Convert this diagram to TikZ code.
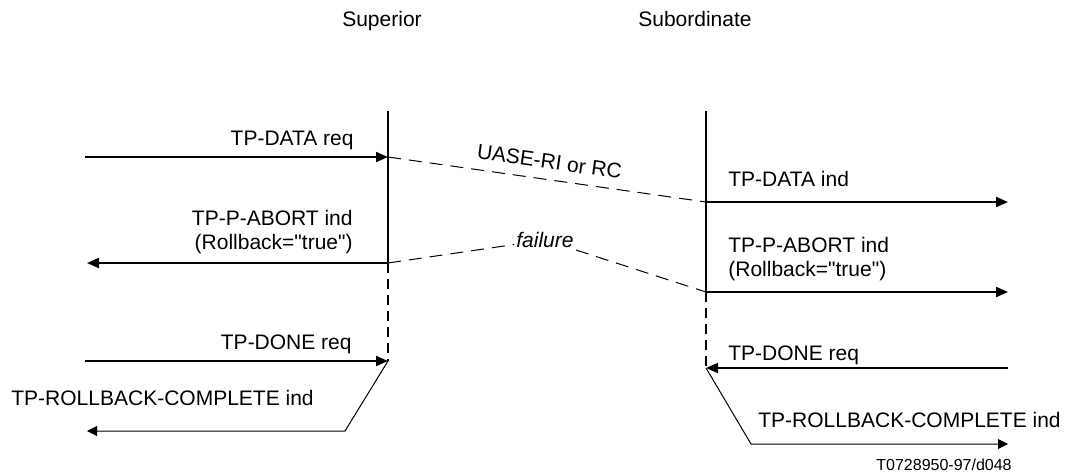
\documentclass[tikz,border=0pt]{standalone}
\usepackage{fontspec}
\setmainfont{Liberation Sans}
\usetikzlibrary{arrows.meta,positioning,calc}
\tikzset{
  lbl/.style={inner sep=0pt, font=\fontsize{10.5}{12}\selectfont},
  lifeline/.style={line width=1pt},
  lifedash/.style={line width=1pt, dash pattern=on 5pt off 3pt},
  msg/.style={line width=1pt, -{Triangle[length=6pt,width=5pt]}},
  rbmsg/.style={line width=0.5pt, -{Triangle[length=5pt,width=5pt]}},
  pdu/.style={line width=0.5pt, dash pattern=on 6.5pt off 4pt}
}

\begin{document}
\begin{tikzpicture}[x=0.5pt,y=-0.5pt]
\useasboundingbox (0,0) rectangle (1066,473);
% entities
\node[lbl, anchor=base] (sup) at (382,26) {Superior};
\node[lbl, anchor=base] (sub) at (695,26) {Subordinate};
% points on the two time lines
\coordinate (supT) at (388,111);
\coordinate (supA) at (388,157);
\coordinate (supB) at (388,263);
\coordinate (supC) at (388,361);
\coordinate (subT) at (706,111);
\coordinate (subA) at (706,202);
\coordinate (subB) at (706,292);
\coordinate (subC) at (706,368);
% free ends of the primitives
\coordinate (reqL) at (85,157);
\coordinate (abtL) at (87,263);
\coordinate (indR) at (1008,202);
\coordinate (abtR) at (1008,292);
\coordinate (doneL) at (85,361);
\coordinate (doneR) at (1008,368);
\coordinate (rbLk) at (345,431);
\coordinate (rbL) at (87,431);
\coordinate (rbRk) at (751,444);
\coordinate (rbR) at (1008,444);

\draw[lifeline] (supT) -- (supB);
\draw[lifedash] (supB) -- (supC);
\draw[lifeline] (subT) -- (subB);
\draw[lifedash] (subB) -- (subC);

\draw[msg] (reqL) -- (supA);
\draw[msg] (supB) -- (abtL);
\draw[msg] (subA) -- (indR);
\draw[msg] (subB) -- (abtR);
\draw[msg] (doneL) -- (supC);
\draw[msg] (doneR) -- (subC);
\draw[rbmsg] (supC) -- (rbLk) -- (rbL);
\draw[rbmsg] (subC) -- (rbRk) -- (rbR);

% PDUs
\draw[pdu] (supA) -- (subA) node[lbl, midway, sloped, above=5pt] (uase) {UASE-RI or RC};
\node[lbl, inner sep=1pt, font=\fontsize{10.5}{12}\selectfont\itshape] (fail) at (545,240) {failure};
\draw[pdu] (supB) -- (fail) -- (subB);

% primitive labels
\node[lbl, anchor=base east] (reqlbl) at (354,145) {TP-DATA req};
\node[lbl, anchor=base east, align=right] (abtLlbl) at (353,249) {TP-P-ABORT ind\\(Rollback=\textquotedbl true\textquotedbl)};
\node[lbl, anchor=base west] (indlbl) at (728,186) {TP-DATA ind};
\node[lbl, anchor=base west, align=left] (abtRlbl) at (728,276) {TP-P-ABORT ind\\(Rollback=\textquotedbl true\textquotedbl)};
\node[lbl, anchor=base east] (doneLlbl) at (352,349) {TP-DONE req};
\node[lbl, anchor=base west] (doneRlbl) at (728,360) {TP-DONE req};
\node[lbl, anchor=base west] (rbLlbl) at (11,405) {TP-ROLLBACK-COMPLETE ind};
\node[lbl, anchor=base west] (rbRlbl) at (758,427) {TP-ROLLBACK-COMPLETE ind};
\node[lbl, anchor=base, font=\fontsize{8}{10}\selectfont] (ref) at (944,470) {T0728950-97/d048};
\end{tikzpicture}
\end{document}
